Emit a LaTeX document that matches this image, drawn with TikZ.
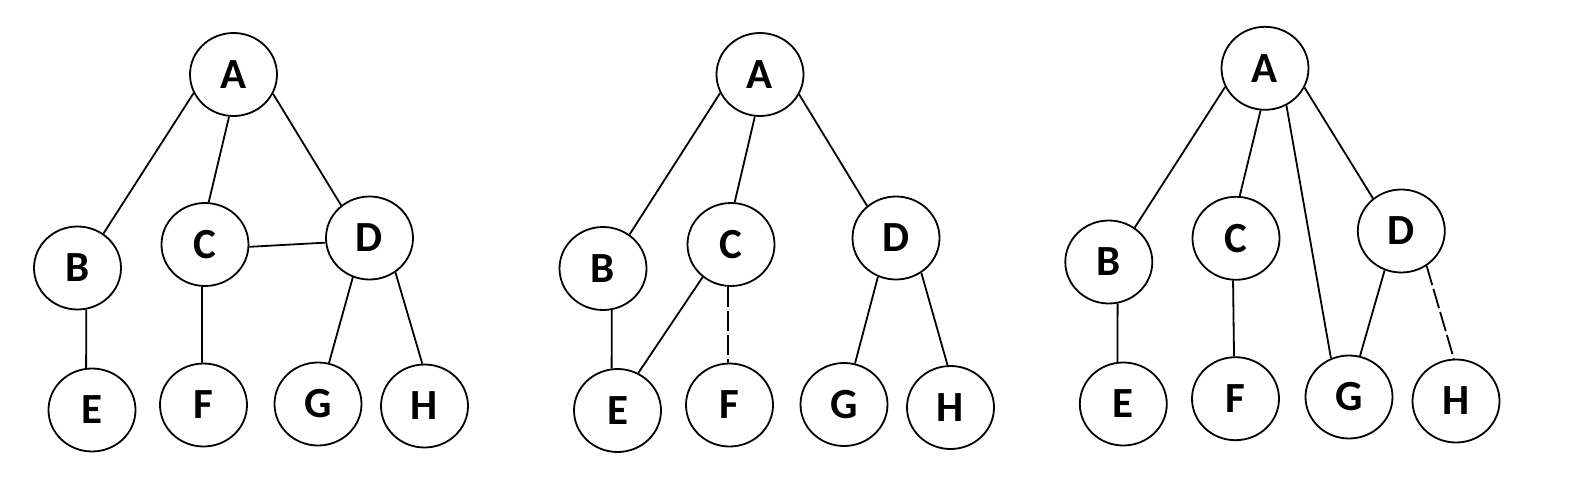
\documentclass[tikz,border=0pt]{standalone}
\usepackage{fontspec}
\setmainfont{Carlito}
\usetikzlibrary{shapes.geometric}
\tikzset{
  vert/.style={ellipse, draw, line width=1.8pt, minimum width=87pt, minimum height=83pt, inner sep=0pt, font=\fontsize{43}{43}\selectfont\bfseries},
  edge/.style={line width=1.8pt},
  dedge/.style={line width=1.8pt, dash pattern=on 20pt off 4pt},
}
\begin{document}
\begin{tikzpicture}[x=1pt,y=-1pt]
\useasboundingbox (0,0) rectangle (1571,500);
% Tree 1
\node[vert] (a1) at (233.5,74.5) {A};
\node[vert] (b1) at (77.5,268) {B};
\node[vert] (c1) at (205,244.5) {C};
\node[vert] (d1) at (369.5,238) {D};
\node[vert] (e1) at (92,410) {E};
\node[vert] (f1) at (203.5,405) {F};
\node[vert] (g1) at (318,404) {G};
\node[vert] (h1) at (424.5,406) {H};
\draw[edge] (a1.205) -- (b1.53);
\draw[edge] (a1.264) -- (c1.85);
\draw[edge] (a1.334) -- (d1.131);
\draw[edge] (c1.357) -- (d1.186);
\draw[edge] (b1.282) -- (e1.98);
\draw[edge] (c1.266) -- (f1.92);
\draw[edge] (d1.247) -- (g1.75);
\draw[edge] (d1.307) -- (h1.93);
% Tree 2
\node[vert] (a2) at (760,74.5) {A};
\node[vert] (b2) at (603,268.5) {B};
\node[vert] (c2) at (731,244.5) {C};
\node[vert] (d2) at (896,238) {D};
\node[vert] (e2) at (617.5,410.5) {E};
\node[vert] (f2) at (729.5,405) {F};
\node[vert] (g2) at (844,404.5) {G};
\node[vert] (h2) at (950.5,407.5) {H};
\draw[edge] (a2.205) -- (b2.52);
\draw[edge] (a2.263) -- (c2.85);
\draw[edge] (a2.333) -- (d2.132);
\draw[edge] (b2.282) -- (e2.98);
\draw[edge] (c2.229) -- (e2.61);
\draw[dedge] (c2.266) -- (f2.92);
\draw[edge] (d2.245) -- (g2.75);
\draw[edge] (d2.306) -- (h2.94);
% Tree 3
\node[vert] (a3) at (1265,68.3) {A};
\node[vert] (b3) at (1108.8,262) {B};
\node[vert] (c3) at (1236,238.3) {C};
\node[vert] (d3) at (1401.3,231) {D};
\node[vert] (e3) at (1123.3,404) {E};
\node[vert] (f3) at (1235.5,398.7) {F};
\node[vert] (g3) at (1349,397) {G};
\node[vert] (h3) at (1456,401) {H};
\draw[edge] (a3.205) -- (b3.53);
\draw[edge] (a3.264) -- (c3.85);
\draw[edge] (a3.300) -- (g3.115);
\draw[edge] (a3.334) -- (d3.131);
\draw[edge] (b3.282) -- (e3.98);
\draw[edge] (c3.266) -- (f3.92);
\draw[edge] (d3.247) -- (g3.75);
\draw[dedge] (d3.306) -- (h3.93.5);
\end{tikzpicture}
\end{document}
